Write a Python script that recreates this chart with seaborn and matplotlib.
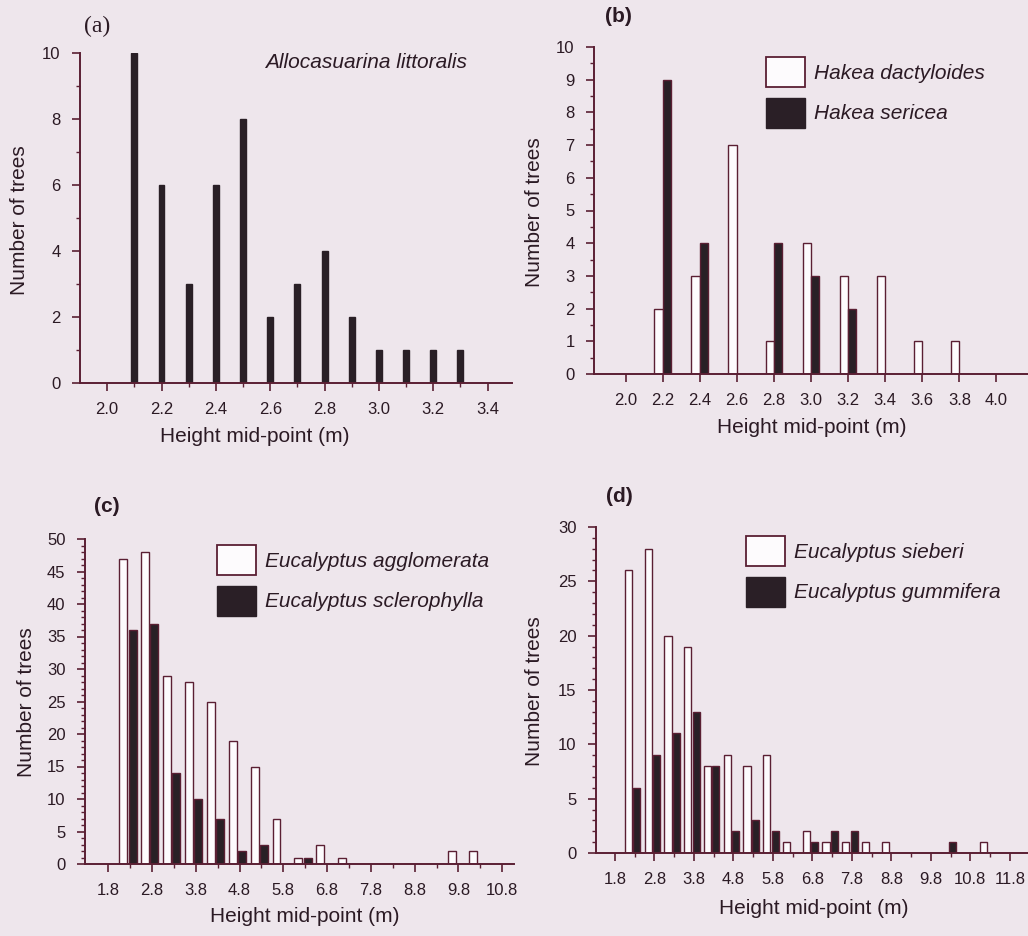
import pandas as pd
import matplotlib.pyplot as plt
from matplotlib.patches import Patch
from matplotlib.ticker import FixedLocator, MultipleLocator
import seaborn as sns

# figure size in pixels (dpi 100)
W, H = 1028, 936

BG = "#eee6ec"
INK = "#2b1a24"
EDGE = "#5a1f33"
DARK = "#2a1f26"
LIGHT = "#fdfbfd"

# (a) Allocasuarina littoralis
a_mid = [2.1, 2.2, 2.3, 2.4, 2.5, 2.6, 2.7, 2.8, 2.9, 3.0, 3.1, 3.2, 3.3]
a_count = [10, 6, 3, 6, 8, 2, 3, 4, 2, 1, 1, 1, 1]

# (b) Hakea
b_mid = [2.2, 2.4, 2.6, 2.8, 3.0, 3.2, 3.4, 3.6, 3.8]
b_dactyloides = [2, 3, 7, 1, 4, 3, 3, 1, 1]
b_sericea = [9, 4, 0, 4, 3, 2, 0, 0, 0]

# (c) Eucalyptus agglomerata / sclerophylla
c_mid = [2.25, 2.75, 3.25, 3.75, 4.25, 4.75, 5.25, 5.75, 6.25, 6.75,
         7.25, 7.75, 8.25, 8.75, 9.25, 9.75, 10.25]
c_agglomerata = [47, 48, 29, 28, 25, 19, 15, 7, 1, 3, 1, 0, 0, 0, 0, 2, 2]
c_sclerophylla = [36, 37, 14, 10, 7, 2, 3, 0, 1, 0, 0, 0, 0, 0, 0, 0, 0]

# (d) Eucalyptus sieberi / gummifera
d_mid = [2.25, 2.75, 3.25, 3.75, 4.25, 4.75, 5.25, 5.75, 6.25, 6.75,
         7.25, 7.75, 8.25, 8.75, 9.25, 9.75, 10.25, 10.75, 11.25]
d_sieberi = [26, 28, 20, 19, 8, 9, 8, 9, 1, 2, 1, 1, 1, 1, 0, 0, 0, 0, 1]
d_gummifera = [6, 9, 11, 13, 8, 2, 3, 2, 0, 1, 2, 2, 0, 0, 0, 0, 1, 0, 0]

sns.set_theme(style="ticks")
plt.rcParams["font.family"] = ["Liberation Sans", "DejaVu Sans"]

fig = plt.figure(figsize=(W / 100, H / 100), dpi=100, facecolor=BG)


def px_axes(left, top, right, bottom):
    ax = fig.add_axes([left / W, 1 - bottom / H, (right - left) / W, (bottom - top) / H])
    ax.set_facecolor(BG)
    return ax


def style_axes(ax, xlim, ylim, xmajor, xminor, ymajor, yminor):
    ax.set_xlim(*xlim)
    ax.set_ylim(*ylim)
    ax.xaxis.set_major_locator(FixedLocator(xmajor))
    ax.set_xticklabels([f"{v:.1f}" for v in xmajor])
    if xminor:
        ax.xaxis.set_minor_locator(FixedLocator(xminor))
    ax.yaxis.set_major_locator(MultipleLocator(ymajor))
    ax.yaxis.set_minor_locator(MultipleLocator(yminor))
    for side in ["top", "right"]:
        ax.spines[side].set_visible(False)
    for side in ["left", "bottom"]:
        ax.spines[side].set_color(EDGE)
        ax.spines[side].set_linewidth(1.4)
    ax.tick_params(which="major", direction="out", length=6, width=1.2,
                   color=EDGE, labelsize=12, labelcolor=INK, pad=8)
    ax.tick_params(which="minor", direction="out", length=3, width=1.0, color=EDGE)
    ax.set_xlabel("")
    ax.set_ylabel("")


def pair_plot(ax, mids, s1, s2, n1, n2, width, gap):
    df = pd.DataFrame({
        "mid": mids + mids,
        "count": s1 + s2,
        "species": [n1] * len(mids) + [n2] * len(mids),
    })
    sns.barplot(data=df, x="mid", y="count", hue="species", hue_order=[n1, n2],
                palette={n1: LIGHT, n2: DARK}, native_scale=True, width=width,
                gap=gap, edgecolor=EDGE, linewidth=1.0, errorbar=None,
                legend=False, ax=ax)


def add_legend(ax, n1, n2, x, y):
    handles = [Patch(facecolor=LIGHT, edgecolor=EDGE, linewidth=1.3, label=n1),
               Patch(facecolor=DARK, edgecolor=DARK, label=n2)]
    ax.legend(handles=handles, loc="upper left", bbox_to_anchor=(x / W, 1 - y / H),
              bbox_transform=fig.transFigure, frameon=False, borderpad=0,
              borderaxespad=0, handlelength=1.85, handleheight=1.85,
              handletextpad=0.45, labelspacing=0.5, labelcolor=INK,
              prop={"style": "italic", "size": 15})


def label(x, y, s, **kw):
    fig.text(x / W, 1 - y / H, s, ha="center", va="center", color=INK, **kw)


# ---- (a)
ax_a = px_axes(80, 53, 512, 383)
df_a = pd.DataFrame({"mid": a_mid, "count": a_count})
sns.barplot(data=df_a, x="mid", y="count", native_scale=True, width=0.22,
            color=DARK, edgecolor=DARK, errorbar=None, ax=ax_a)
style_axes(ax_a, (1.9, 3.49), (0, 10),
           [2.0, 2.2, 2.4, 2.6, 2.8, 3.0, 3.2, 3.4],
           [2.1, 2.3, 2.5, 2.7, 2.9, 3.1, 3.3], 2, 1)

# ---- (b)
ax_b = px_axes(594, 47, 1028, 374)
pair_plot(ax_b, b_mid, b_dactyloides, b_sericea,
          "Hakea dactyloides", "Hakea sericea", 0.45, 0)
style_axes(ax_b, (1.83, 4.17), (0, 10),
           [2.0, 2.2, 2.4, 2.6, 2.8, 3.0, 3.2, 3.4, 3.6, 3.8, 4.0], None, 1, 0.5)
add_legend(ax_b, "Hakea dactyloides", "Hakea sericea", 766, 57)

# ---- (c)
ax_c = px_axes(85, 539, 514, 864)
pair_plot(ax_c, c_mid, c_agglomerata, c_sclerophylla,
          "Eucalyptus agglomerata", "Eucalyptus sclerophylla", 0.85, 0.15)
style_axes(ax_c, (1.27, 11.07), (0, 50),
           [1.8, 2.8, 3.8, 4.8, 5.8, 6.8, 7.8, 8.8, 9.8, 10.8],
           [2.3, 3.3, 4.3, 5.3, 6.3, 7.3, 8.3, 9.3, 10.3], 5, 1)
add_legend(ax_c, "Eucalyptus agglomerata", "Eucalyptus sclerophylla", 217, 545)

# ---- (d)
ax_d = px_axes(596, 527, 1028, 853)
pair_plot(ax_d, d_mid, d_sieberi, d_gummifera,
          "Eucalyptus sieberi", "Eucalyptus gummifera", 0.85, 0.15)
style_axes(ax_d, (1.32, 12.26), (0, 30),
           [1.8, 2.8, 3.8, 4.8, 5.8, 6.8, 7.8, 8.8, 9.8, 10.8, 11.8],
           [2.3, 3.3, 4.3, 5.3, 6.3, 7.3, 8.3, 9.3, 10.3, 11.3], 5, 1)
add_legend(ax_d, "Eucalyptus sieberi", "Eucalyptus gummifera", 746, 536)

# ---- panel letters, species name, axis labels
label(97, 26, "(a)", size=17, family="Liberation Serif")
label(618, 17, "(b)", size=15, weight="bold")
label(107, 507, "(c)", size=15, weight="bold")
label(619, 497, "(d)", size=15, weight="bold")
label(366, 63, "Allocasuarina littoralis", size=15, style="italic")

for x, y in [(20, 220), (534, 212), (27, 702), (534, 691)]:
    label(x, y, "Number of trees", size=15, rotation=90)
for x, y in [(255, 436), (812, 428), (305, 917), (814, 908)]:
    label(x, y, "Height mid-point (m)", size=15)

fig.savefig("out.png", dpi=100, facecolor=BG)
